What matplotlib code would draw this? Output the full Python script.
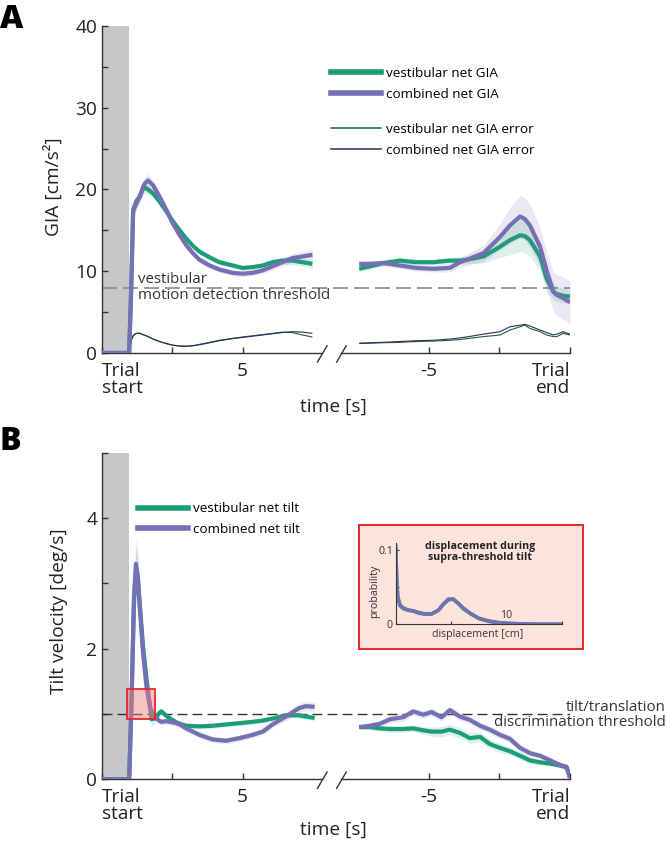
import numpy as np
import matplotlib
matplotlib.use('Agg')
import matplotlib.pyplot as plt
from matplotlib.lines import Line2D
from matplotlib.patches import Rectangle

plt.rcParams['font.family'] = ['Open Sans', 'DejaVu Sans']

GREEN = '#1b9e77'
PURPLE = '#7570b3'
GREEN_DARK = '#1d5e46'
PURPLE_DARK = '#2c2d5e'
GREY = '#c6c7c9'
AXC = '#333333'

OFFSET = 16.6      # where "trial end" sits on the shared x axis
STIM_ON = 0.98     # grey box = pre-motion period
BREAK_L, BREAK_R = 7.82, 8.5

# ---------------- panel A : GIA ----------------
a_t_start = [0, 0.98, 1.05, 1.12, 1.18, 1.24, 1.36, 1.47, 1.55, 1.65, 1.83, 2.06, 2.30, 2.53,
             2.77, 3.0, 3.24, 3.47, 3.83, 4.18, 4.65, 5.0, 5.35, 5.71, 6.06, 6.41, 6.76, 7.12, 7.47]
gia_comb_start = [0, 0, 8.0, 17.5, 18.1, 18.6, 19.1, 20.3, 20.8, 21.1, 20.5, 19.1, 17.5, 15.8,
                  14.4, 13.2, 12.2, 11.4, 10.7, 10.2, 9.8, 9.7, 9.8, 10.1, 10.6, 11.1, 11.6, 11.8, 12.0]
gia_vest_start = [0, 0, 7.5, 17.3, 17.9, 18.4, 19.2, 20.1, 20.2, 20.0, 19.5, 18.5, 17.3, 16.1,
                  15.0, 14.0, 13.1, 12.4, 11.7, 11.1, 10.7, 10.4, 10.5, 10.7, 11.1, 11.3, 11.3, 11.1, 10.9]
gia_comb_sd_start = [0, 0, 1.5, 1.2, 1.0, 0.9, 0.8, 0.8, 0.8, 0.8, 0.6, 0.5, 0.4, 0.4,
                     0.4, 0.4, 0.35, 0.35, 0.35, 0.35, 0.35, 0.35, 0.35, 0.4, 0.45, 0.5, 0.55, 0.6, 0.6]
gia_vest_sd_start = [0, 0, 1.5, 1.0, 0.9, 0.8, 0.7, 0.7, 0.7, 0.6, 0.5, 0.4, 0.35, 0.35,
                     0.35, 0.35, 0.3, 0.3, 0.3, 0.3, 0.3, 0.3, 0.3, 0.35, 0.4, 0.45, 0.5, 0.5, 0.5]
err_comb_start = [0, 0, 1.5, 2.1, 2.3, 2.4, 2.4, 2.25, 2.15, 2.0, 1.7, 1.4, 1.14, 0.95,
                  0.85, 0.82, 0.88, 1.0, 1.25, 1.5, 1.75, 1.9, 2.05, 2.2, 2.35, 2.5, 2.6, 2.55, 2.4]
err_vest_start = [0, 0, 1.5, 2.1, 2.3, 2.4, 2.4, 2.25, 2.15, 2.0, 1.7, 1.4, 1.14, 0.95,
                  0.85, 0.82, 0.9, 1.05, 1.3, 1.55, 1.8, 1.96, 2.1, 2.25, 2.4, 2.55, 2.5, 2.2, 1.95]

a_t_end = [-7.47, -7.09, -6.62, -6.03, -5.44, -4.85, -4.26, -3.9, -3.66, -3.07, -2.48, -2.13,
           -1.77, -1.6, -1.42, -1.06, -0.83, -0.59, -0.47, -0.24, 0]
gia_comb_end = [10.9, 10.9, 11.0, 10.7, 10.4, 10.3, 10.4, 11.1, 11.4, 12.2, 14.2, 15.6,
                16.7, 16.4, 15.6, 13.0, 10.1, 7.5, 7.1, 6.7, 6.2]
gia_vest_end = [10.3, 10.6, 11.0, 11.3, 11.1, 11.1, 11.3, 11.3, 11.4, 11.8, 13.0, 13.8,
                14.4, 14.3, 13.8, 11.8, 9.1, 7.5, 7.2, 7.0, 6.9]
gia_comb_sd_end = [0.4, 0.4, 0.4, 0.4, 0.4, 0.4, 0.5, 0.6, 0.7, 1.0, 1.6, 2.2,
                   2.6, 2.6, 2.6, 2.4, 2.3, 2.4, 2.5, 2.6, 2.6]
gia_vest_sd_end = [0.35, 0.35, 0.35, 0.35, 0.35, 0.35, 0.4, 0.45, 0.5, 0.8, 1.3, 1.8,
                   2.0, 2.0, 2.0, 1.8, 1.4, 1.0, 0.9, 0.9, 0.9]
err_comb_end = [1.2, 1.25, 1.3, 1.4, 1.5, 1.55, 1.7, 1.85, 1.96, 2.3, 2.6, 3.2,
                3.4, 3.5, 3.3, 2.8, 2.5, 2.2, 2.3, 2.6, 2.3]
err_vest_end = [1.15, 1.2, 1.25, 1.3, 1.4, 1.45, 1.55, 1.65, 1.75, 2.0, 2.2, 2.8,
                3.2, 3.4, 3.0, 2.6, 2.2, 2.0, 2.0, 2.4, 2.2]
GIA_THRESHOLD = 8

# ---------------- panel B : tilt velocity ----------------
b_t_start = [0, 0.98, 1.07, 1.15, 1.22, 1.29, 1.36, 1.47, 1.59, 1.71, 1.77, 1.89, 2.06, 2.12,
             2.30, 2.65, 2.77, 3.0, 3.47, 3.94, 4.41, 4.88, 5.35, 5.71, 6.06, 6.53, 7.0, 7.24, 7.55]
tilt_comb_start = [0, 0, 1.32, 2.8, 3.30, 3.1, 2.6, 1.94, 1.43, 1.12, 1.05, 0.96, 0.89, 0.88,
                   0.89, 0.86, 0.84, 0.78, 0.68, 0.61, 0.59, 0.63, 0.68, 0.73, 0.84, 0.96, 1.09, 1.12, 1.11]
tilt_vest_start = [0, 0, 1.3, 2.7, 3.2, 3.05, 2.65, 2.05, 1.55, 1.15, 0.92, 0.93, 1.02, 1.04,
                   0.97, 0.87, 0.85, 0.82, 0.81, 0.82, 0.84, 0.86, 0.88, 0.90, 0.93, 0.98, 0.98, 0.96, 0.94]
tilt_comb_sd_start = [0, 0, 0.2, 0.35, 0.4, 0.35, 0.25, 0.15, 0.1, 0.08, 0.06, 0.05, 0.05, 0.05,
                      0.05, 0.05, 0.05, 0.05, 0.05, 0.05, 0.05, 0.05, 0.05, 0.05, 0.05, 0.06, 0.07, 0.07, 0.07]
tilt_vest_sd_start = [0, 0, 0.2, 0.3, 0.35, 0.3, 0.25, 0.15, 0.12, 0.1, 0.1, 0.08, 0.06, 0.05,
                      0.05, 0.04, 0.04, 0.04, 0.04, 0.04, 0.04, 0.04, 0.04, 0.04, 0.04, 0.04, 0.04, 0.04, 0.04]

b_t_end = [-7.47, -7.09, -6.74, -6.38, -5.91, -5.56, -5.2, -4.9, -4.55, -4.26, -3.9, -3.55,
           -3.19, -2.84, -2.48, -2.13, -1.77, -1.42, -1.06, -0.71, -0.35, -0.12, 0]
tilt_comb_end = [0.80, 0.82, 0.85, 0.92, 0.95, 1.04, 0.99, 1.03, 0.95, 1.06, 0.96, 0.91,
                 0.82, 0.76, 0.68, 0.62, 0.48, 0.40, 0.36, 0.29, 0.22, 0.19, 0.02]
tilt_vest_end = [0.80, 0.80, 0.78, 0.77, 0.77, 0.78, 0.75, 0.73, 0.73, 0.76, 0.71, 0.63,
                 0.65, 0.54, 0.48, 0.43, 0.36, 0.29, 0.26, 0.24, 0.21, 0.18, 0.02]
tilt_comb_sd_end = [0.03, 0.04, 0.05, 0.06, 0.06, 0.06, 0.06, 0.06, 0.06, 0.06, 0.06, 0.06,
                    0.06, 0.06, 0.06, 0.06, 0.06, 0.05, 0.05, 0.05, 0.04, 0.04, 0.02]
tilt_vest_sd_end = [0.03, 0.04, 0.04, 0.05, 0.05, 0.05, 0.06, 0.07, 0.08, 0.08, 0.08, 0.08,
                    0.08, 0.07, 0.07, 0.06, 0.06, 0.05, 0.04, 0.04, 0.03, 0.03, 0.02]
TILT_THRESHOLD = 1
HIGHLIGHT_T = (0.92, 1.91)
HIGHLIGHT_V = (0.93, 1.38)

# ---------------- inset : displacement histogram ----------------
disp_cm = [0, 0.09, 0.18, 0.39, 0.69, 1.14, 1.6, 2.05, 2.65, 3.25, 3.86, 4.3, 4.76, 5.2,
           5.66, 6.1, 6.7, 7.5, 8.4, 9.3, 10.2, 11.4, 12.9, 15]
prob_comb = [0.1, 0.06, 0.037, 0.026, 0.022, 0.019, 0.018, 0.015, 0.0135, 0.014, 0.019, 0.027,
             0.034, 0.034, 0.028, 0.022, 0.015, 0.008, 0.0045, 0.0022, 0.0013, 0.0005, 0, 0]
prob_vest = [0.105, 0.058, 0.036, 0.025, 0.021, 0.019, 0.018, 0.016, 0.014, 0.014, 0.019, 0.027,
             0.033, 0.034, 0.028, 0.021, 0.015, 0.008, 0.004, 0.002, 0.001, 0.0004, 0, 0]

FS_TICK = 13.8
FS_LEG = 9.7
FS_NOTE = 10.8
FS_INSET = 7.7


def draw_series(ax, t_start, t_end, y_start, y_end, sd_start, sd_end, color, lw, z):
    for t, y, sd in [(np.array(t_start), np.array(y_start), sd_start),
                     (np.array(t_end) + OFFSET, np.array(y_end), sd_end)]:
        if sd is not None:
            sd = np.array(sd)
            ax.fill_between(t, y - sd, y + sd, color=color, alpha=0.15, lw=0, zorder=z - 1)
        ax.plot(t, y, color=color, lw=lw, zorder=z, solid_capstyle='butt')


def setup_panel(ax, ymax, ystep, ylabel, label_x, label_y, xlabel_y):
    ax.set_xlim(0, OFFSET)
    ax.set_ylim(0, ymax)
    ax.axvspan(0, STIM_ON, color=GREY, lw=0, zorder=0)
    for s in ['top', 'right', 'bottom']:
        ax.spines[s].set_visible(False)
    ax.spines['left'].set_color(AXC)
    ax.spines['left'].set_linewidth(1)
    trans = ax.get_xaxis_transform()
    ax.plot([0, BREAK_L], [0, 0], transform=trans, color=AXC, lw=1, clip_on=False)
    ax.plot([BREAK_R, OFFSET], [0, 0], transform=trans, color=AXC, lw=1, clip_on=False)
    for xb in (BREAK_L, BREAK_R):
        ax.plot([xb - 0.17, xb + 0.17], [-0.028, 0.022], transform=trans, color=AXC,
                lw=1, clip_on=False)
    ax.set_xticks([0, 2.5, 5, OFFSET - 5, OFFSET - 2.5, OFFSET])
    ax.set_xticklabels(['Trial\nstart', '', '5', '-5', '', 'Trial\nend'])
    labels = ax.get_xticklabels()
    labels[0].set_ha('left')
    labels[-1].set_ha('right')
    labels[-1].set_multialignment('right')
    for lab in labels:
        lab.set_linespacing(0.9)
    yt = np.arange(0, ymax + 0.001, ystep)
    ax.set_yticks(yt)
    ax.set_yticklabels([f'{v:g}' if i % 2 == 0 else '' for i, v in enumerate(yt)])
    ax.tick_params(direction='in', length=4, width=1, color=AXC, labelsize=FS_TICK,
                   labelcolor='#222222')
    ax.tick_params(axis='x', pad=6.5)
    ax.tick_params(axis='y', pad=3)
    ax.set_ylabel(ylabel, fontsize=FS_TICK, color='#222222')
    ax.yaxis.set_label_coords(label_x, label_y)
    ax.set_xlabel('time [s]', fontsize=FS_TICK, color='#222222', va='top')
    ax.xaxis.set_label_coords(0.494, xlabel_y)


fig = plt.figure(figsize=(6.67, 8.41), dpi=100)

# ---------- A ----------
axA = fig.add_axes([0.1522, 0.5803, 0.7024, 0.3888])
setup_panel(axA, 40, 5, 'GIA [cm/s²]', -0.082, 0.509, -0.137)
axA.axhline(GIA_THRESHOLD, color='#8a8a8a', lw=1.2, dashes=(9, 3.6), zorder=1)
axA.text(1.29, GIA_THRESHOLD, 'vestibular\nmotion detection threshold', fontsize=FS_NOTE,
         color='#333333', va='center', ha='left', linespacing=1.05, zorder=2)
draw_series(axA, a_t_start, a_t_end, err_vest_start, err_vest_end, None, None, GREEN_DARK, 0.8, 4)
draw_series(axA, a_t_start, a_t_end, err_comb_start, err_comb_end, None, None, PURPLE_DARK, 0.8, 4)
draw_series(axA, a_t_start, a_t_end, gia_vest_start, gia_vest_end,
            gia_vest_sd_start, gia_vest_sd_end, GREEN, 3.0, 5)
draw_series(axA, a_t_start, a_t_end, gia_comb_start, gia_comb_end,
            gia_comb_sd_start, gia_comb_sd_end, PURPLE, 3.0, 6)

leg_kw = dict(loc='upper left', frameon=False, fontsize=FS_LEG, handlelength=3.7,
              handletextpad=0.38, labelspacing=0.58, borderpad=0, borderaxespad=0)
leg1 = axA.legend([Line2D([], [], color=GREEN, lw=4), Line2D([], [], color=PURPLE, lw=4)],
                  ['vestibular net GIA', 'combined net GIA'],
                  bbox_to_anchor=(0.49, 0.874), **leg_kw)
axA.add_artist(leg1)
axA.legend([Line2D([], [], color=GREEN_DARK, lw=1.1), Line2D([], [], color=PURPLE_DARK, lw=1.1)],
           ['vestibular net GIA error', 'combined net GIA error'],
           bbox_to_anchor=(0.49, 0.703), **leg_kw)

fig.text(0.0, 1 - 4 / 841, 'A', fontsize=23, fontweight='heavy', va='top', ha='left')

# ---------- B ----------
axB = fig.add_axes([0.1522, 0.0734, 0.7024, 0.388])
setup_panel(axB, 5, 1, 'Tilt velocity [deg/s]', -0.072, 0.516, -0.128)
axB.axhline(TILT_THRESHOLD, color='#333333', lw=1.0, dashes=(7.2, 3.6), zorder=1)
draw_series(axB, b_t_start, b_t_end, tilt_vest_start, tilt_vest_end,
            tilt_vest_sd_start, tilt_vest_sd_end, GREEN, 3.0, 5)
draw_series(axB, b_t_start, b_t_end, tilt_comb_start, tilt_comb_end,
            tilt_comb_sd_start, tilt_comb_sd_end, PURPLE, 3.0, 6)
axB.add_patch(Rectangle((HIGHLIGHT_T[0], HIGHLIGHT_V[0]), HIGHLIGHT_T[1] - HIGHLIGHT_T[0],
                        HIGHLIGHT_V[1] - HIGHLIGHT_V[0], facecolor='#f07878', alpha=0.45,
                        edgecolor='none', zorder=7))
axB.add_patch(Rectangle((HIGHLIGHT_T[0], HIGHLIGHT_V[0]), HIGHLIGHT_T[1] - HIGHLIGHT_T[0],
                        HIGHLIGHT_V[1] - HIGHLIGHT_V[0], facecolor='none',
                        edgecolor='#e8262b', lw=1.3, zorder=8))
axB.legend([Line2D([], [], color=GREEN, lw=4), Line2D([], [], color=PURPLE, lw=4)],
           ['vestibular net tilt', 'combined net tilt'],
           bbox_to_anchor=(0.078, 0.849), **leg_kw)
fig.text(0.998, 1 - 715 / 841, 'tilt/translation\ndiscrimination threshold', fontsize=FS_NOTE,
         color='#333333', ha='right', va='center', multialignment='right', linespacing=1.05)
fig.text(0.0, 1 - 426 / 841, 'B', fontsize=23, fontweight='heavy', va='top', ha='left')

# ---------- inset ----------
bg = fig.add_axes([0.5378, 0.2279, 0.3358, 0.1474])
bg.set_facecolor('#fce4dc')
bg.set_xticks([])
bg.set_yticks([])
for s in bg.spines.values():
    s.set_color('#e8262b')
    s.set_linewidth(1.4)

ins = fig.add_axes([0.5933, 0.2577, 0.2489, 0.097])
ins.patch.set_alpha(0)
ins.plot(disp_cm, prob_vest, color=GREEN, lw=2.6)
ins.plot(disp_cm, prob_comb, color=PURPLE, lw=2.6)
ins.set_xlim(0, 15)
ins.set_ylim(0, 0.11)
for s in ['top', 'right']:
    ins.spines[s].set_visible(False)
for s in ['left', 'bottom']:
    ins.spines[s].set_color(AXC)
    ins.spines[s].set_linewidth(0.8)
ins.set_xticks([0, 5, 10, 15])
ins.set_xticklabels([])
ins.set_yticks([0, 0.05, 0.1])
ins.set_yticklabels(['0', '', '0.1'])
ins.tick_params(direction='in', length=2.5, width=0.8, color=AXC, labelsize=FS_INSET,
                labelcolor='#333333', pad=2)
ins.text(10, 0.004, '10', fontsize=FS_INSET, color='#333333', ha='center', va='bottom')
ins.text(0.508, 0.886, 'displacement during\nsupra-threshold tilt', transform=ins.transAxes,
         fontsize=FS_INSET, fontweight='bold', color='#222222', ha='center', va='center',
         linespacing=0.95)
ins.set_ylabel('probability', fontsize=FS_INSET, color='#333333')
ins.yaxis.set_label_coords(-0.095, 0.40)
ins.set_xlabel('displacement [cm]', fontsize=FS_INSET, color='#333333', va='top')
ins.xaxis.set_label_coords(0.496, -0.06)

fig.savefig('out.png', dpi=100)
